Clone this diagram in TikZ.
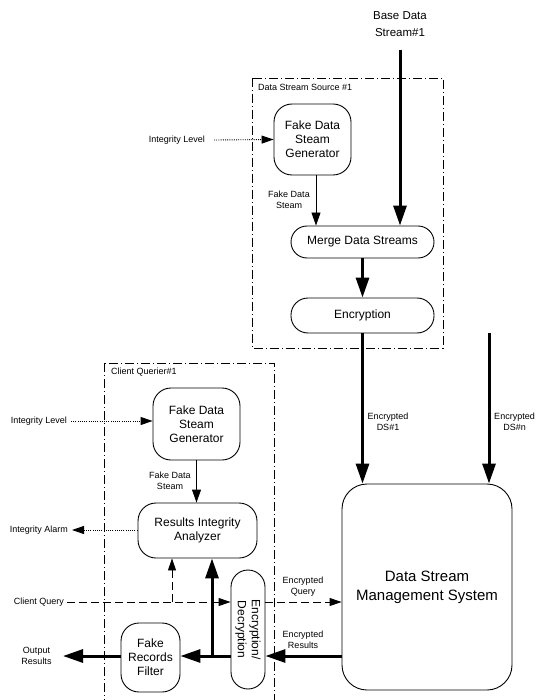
\documentclass[tikz,border=0pt]{standalone}
\usepackage{fontspec}
\setmainfont{Liberation Sans}
\usetikzlibrary{arrows.meta}
\tikzset{
  rbox/.style={draw, line width=0.9pt, align=center, inner sep=0pt,
    font=\fontsize{12}{14}\selectfont},
  lbl/.style={inner sep=0pt, align=center, font=\fontsize{9}{11}\selectfont},
  thickarrow/.style={line width=3pt, -{Triangle[length=20pt,width=13pt]}},
  thinarrow/.style={line width=0.9pt, -{Triangle[length=13pt,width=9pt]}},
  dotarrow/.style={line width=0.9pt, dash pattern=on 1pt off 1.2pt, -{Triangle[length=12pt,width=8pt]}},
  dasharrow/.style={line width=0.9pt, dash pattern=on 8pt off 4pt, -{Triangle[length=12pt,width=8pt]}},
  container/.style={line width=0.9pt, dash pattern=on 9pt off 3pt on 1pt off 3pt},
}
\begin{document}
\begin{tikzpicture}[x=1pt,y=-1pt]
\useasboundingbox (0,0) rectangle (537,700);
\clip (0,0) rectangle (537,700);
\fill[white] (0,0) rectangle (537,700);

% containers
\draw[container] (252,78) rectangle (443,348);
\node[lbl, anchor=west] (srclbl) at (258,87) {Data Stream Source \#1};
\draw[container] (104,363) rectangle (274,720);
\node[lbl, anchor=west] (cqlbl) at (111,372) {Client Querier\#1};

% source nodes
\node[rbox, minimum width=77pt, minimum height=71pt, rounded corners=18pt] (fdg1) at (312.5,139.5) {Fake Data\\Steam\\Generator};
\node[rbox, minimum width=143pt, minimum height=32pt, rounded corners=16pt] (merge) at (362.5,242) {Merge Data Streams};
\node[rbox, minimum width=143pt, minimum height=35pt, rounded corners=17pt] (enc) at (362.5,315.5) {Encryption};

% client nodes
\node[rbox, minimum width=87pt, minimum height=72pt, rounded corners=18pt] (fdg2) at (196.5,424) {Fake Data\\Steam\\Generator};
\node[rbox, minimum width=119pt, minimum height=55pt, rounded corners=18pt] (ria) at (197.5,530.5) {Results Integrity\\Analyzer};
\node[rbox, minimum width=34pt, minimum height=119pt, rounded corners=17pt] (encdec) at (248,629.5) {};
\node[inner sep=0pt, align=center, rotate=-90, font=\fontsize{12}{14}\selectfont] (encdectxt) at (encdec) {Encryption/\\Decryption};
\node[rbox, minimum width=59pt, minimum height=69pt, rounded corners=18pt] (frf) at (150.5,657.5) {Fake\\Records\\Filter};

% DSMS
\node[rbox, minimum width=170pt, minimum height=206pt, rounded corners=25pt, font=\fontsize{15}{19}\selectfont] (dsms) at (427,587) {Data Stream\\Management System};

% top labels
\node[inner sep=0pt, align=center, font=\fontsize{11.5}{16.5}\selectfont] (base) at (400,24) {Base Data\\Stream\#1};
\coordinate (basetop) at (400,50);
\draw[thickarrow] (basetop) -- (basetop |- merge.north);

\node[lbl, anchor=east] (il1) at (205,140) {Integrity Level};
\draw[dotarrow] ([xshift=9pt]il1.east) -- (fdg1.west);

\coordinate (fds1) at (316,175);
\draw[thinarrow] (fds1) -- (fds1 |- merge.north);
\node[lbl] (fds1lbl) at (289,200) {Fake Data\\Steam};

\draw[thickarrow] (merge.south) -- (enc.north);
\draw[thickarrow] (enc.south) -- (enc.south |- dsms.north);
\node[lbl] (eds1) at (388,421.5) {Encrypted\\DS\#1};

\coordinate (dsntop) at (489,333);
\draw[thickarrow] (dsntop) -- (dsntop |- dsms.north);
\node[lbl] (edsn) at (514.5,421.5) {Encrypted\\DS\#n};

% client side
\node[lbl, anchor=east] (il2) at (67,421) {Integrity Level};
\draw[dotarrow] ([xshift=4pt]il2.east) -- (il2.east -| fdg2.west);

\draw[thinarrow] (fdg2.south) -- (fdg2.south |- ria.north);
\node[lbl] (fds2lbl) at (170,481) {Fake Data\\Steam};

\node[lbl, anchor=east] (ia) at (68,530) {Integrity Alarm};
\draw[dotarrow] (ria.west |- ia.east) -- ([xshift=4pt]ia.east);

\node[lbl, anchor=east] (cq) at (64,602) {Client Query};
\draw[dasharrow] ([xshift=3pt]cq.east) -- (cq.east -| encdec.west);
\coordinate (split) at (172,602);
\draw[dasharrow] (split) -- (split |- ria.south);
\draw[dasharrow] (encdec.east |- cq.east) -- (dsms.west |- cq.east);
\node[lbl] (eq) at (303,586.5) {Encrypted\\Query};

\coordinate (resy) at (0,656);
\draw[thickarrow] (dsms.west |- resy) -- (encdec.east |- resy);
\node[lbl] (er) at (303,640) {Encrypted\\Results};
\draw[thickarrow] (encdec.west |- resy) -- (frf.east |- resy);
\coordinate (up) at (212,656);
\draw[thickarrow] (up) -- (up |- ria.south);

\node[lbl] (out) at (36.5,656) {Output\\Results};
\draw[thickarrow] (frf.west |- resy) -- (63,656);
\end{tikzpicture}
\end{document}
